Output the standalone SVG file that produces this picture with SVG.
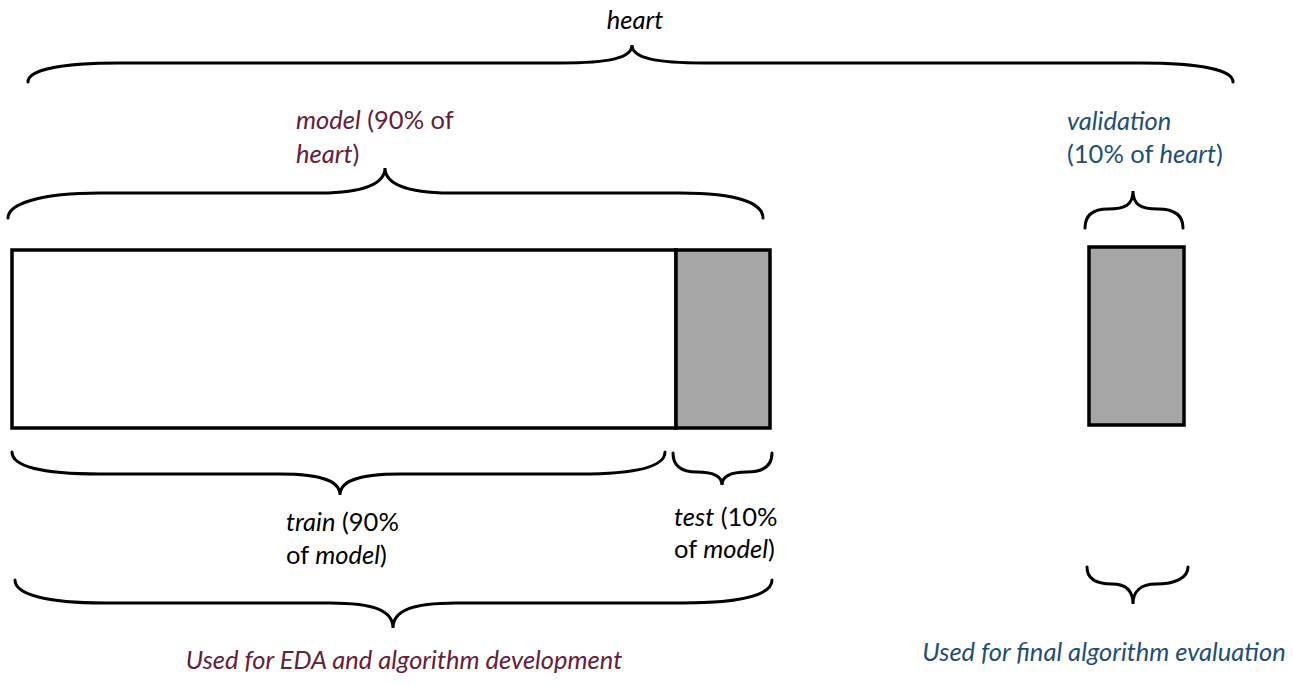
<svg xmlns="http://www.w3.org/2000/svg" width="1293" height="685" viewBox="0 0 1293 685">
<style>
.br{fill:none;stroke:#000;stroke-width:3;stroke-linecap:round}
.box{stroke:#000;stroke-width:3.5}
text{font-family:"Lato","Open Sans","Liberation Sans",sans-serif;font-size:25.5px}
.k{fill:#000}
.m{fill:#662039}
.b{fill:#1f4e79}
.i{font-style:italic}
</style>
<rect width="1293" height="685" fill="#fff"/>
<g id="connectors">
<path class="br" d="M28,82 C28,70 60,63 120,63 L560,63 C610,63 632,58 632,45 C632,58 655,63 705,63 L1140,63 C1200,63 1233,70 1233,82"/>
<path class="br" d="M8,218 C8,204 40,193 100,193 L320,193 C365,193 385,183 385,168 C385,183 405,193 450,193 L680,193 C740,193 763,204 763,218"/>
<path class="br" d="M1085,228 C1085,216 1092,209 1108,209 C1125,209 1133,205 1133,191 C1133,205 1141,209 1158,209 C1175,209 1183,216 1183,228"/>
<path class="br" d="M12,452 C12,466 40,474 100,474 L280,474 C325,474 340,482 340,495 C340,482 355,474 400,474 L580,474 C640,474 665,466 665,452"/>
<path class="br" d="M673,453 C673,466 682,472 697,472 C714,472 722,476 722,485 C722,476 730,472 747,472 C763,472 772,466 772,453"/>
<path class="br" d="M15,580 C15,594 45,603 105,603 L330,603 C375,603 393,611 393,628 C393,611 411,603 456,603 L682,603 C745,603 772,594 772,580"/>
<path class="br" d="M1087,567 C1087,578 1095,584 1112,584 C1127,584 1133,592 1133,604 C1133,592 1140,584 1156,584 C1175,584 1188,578 1188,567"/>
</g>
<g id="train"><rect class="box" x="12" y="250" width="664" height="178" fill="#fff"/></g>
<g id="test"><rect class="box" x="676" y="250" width="94" height="178" fill="#a6a6a6"/></g>
<g id="validation"><rect class="box" x="1089" y="247" width="95" height="178" fill="#a6a6a6"/></g>
<g id="labels">
<text class="k i" x="635" y="29" text-anchor="middle" font-size="28">heart</text>
<text class="m" x="296" y="129"><tspan class="i">model</tspan> (90% of</text>
<text class="m" x="296" y="163"><tspan class="i">heart</tspan>)</text>
<text class="b" x="1067" y="130"><tspan class="i">validation</tspan></text>
<text class="b" x="1067" y="163">(10% of <tspan class="i">heart</tspan>)</text>
<text class="k" x="286" y="531"><tspan class="i">train</tspan> (90%</text>
<text class="k" x="286" y="564">of <tspan class="i">model</tspan>)</text>
<text class="k" x="674" y="526"><tspan class="i">test</tspan> (10%</text>
<text class="k" x="674" y="558">of <tspan class="i">model</tspan>)</text>
<text class="m i" x="404" y="669" text-anchor="middle">Used for EDA and algorithm development</text>
<text class="b i" x="1104" y="661" text-anchor="middle">Used for final algorithm evaluation</text>
</g>
</svg>
